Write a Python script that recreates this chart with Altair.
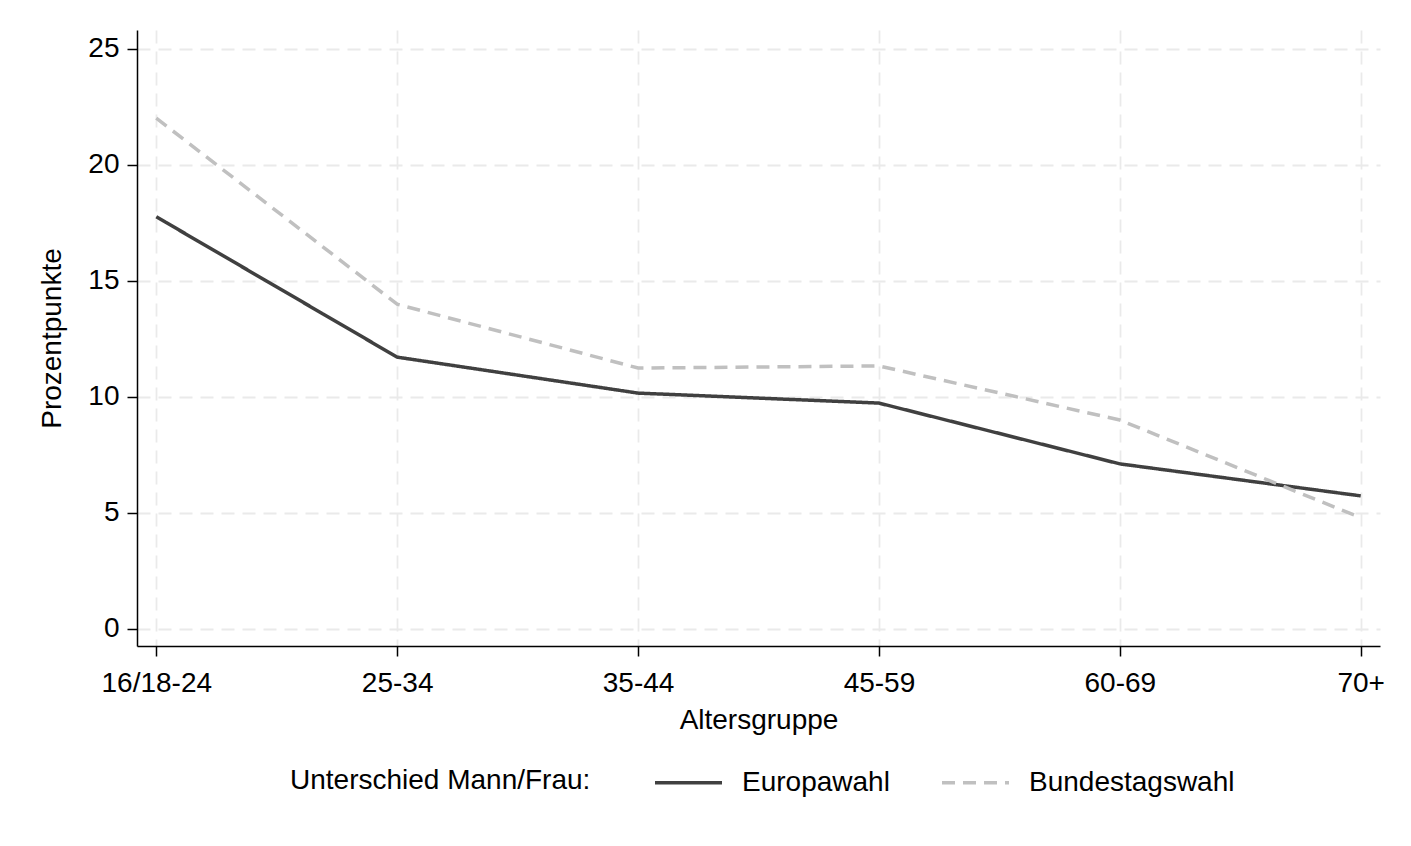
import altair as alt
import pandas as pd

categories = ["16/18-24", "25-34", "35-44", "45-59", "60-69", "70+"]
europawahl = [17.75, 11.7, 10.15, 9.72, 7.1, 5.72]
bundestagswahl = [22.0, 13.98, 11.23, 11.32, 8.99, 4.78]
series = ["Europawahl", "Bundestagswahl"]

rows = []
for name, vals in zip(series, [europawahl, bundestagswahl]):
    for i, (c, v) in enumerate(zip(categories, vals)):
        rows.append({"Altersgruppe": c, "Wert": v, "Serie": name, "order": i})
df = pd.DataFrame(rows)

FONT = "Liberation Sans"
FS = 28

chart = alt.Chart(df).mark_line(strokeWidth=3.5).encode(
    x=alt.X("Altersgruppe:N", sort=categories,
            scale=alt.Scale(type="point", padding=0.08),
            axis=alt.Axis(title="Altersgruppe", labelAngle=0)),
    y=alt.Y("Wert:Q", scale=alt.Scale(domain=[-0.75, 25.8], nice=False, zero=False),
            axis=alt.Axis(title="Prozentpunkte", values=[0, 5, 10, 15, 20, 25])),
    color=alt.Color("Serie:N", sort=series,
                    scale=alt.Scale(domain=series, range=["#404040", "#c0c0c0"]),
                    legend=alt.Legend(title="Unterschied Mann/Frau:", orient="none",
                                      direction="horizontal", titleOrient="left",
                                      legendX=153, legendY=717,
                                      symbolType="stroke", symbolSize=4489,
                                      symbolStrokeWidth=3.5, labelOffset=18,
                                      columnPadding=45, titlePadding=62,
                                      labelFontSize=FS, titleFontSize=FS,
                                      titleBaseline="line-top", titleLineHeight=18,
                                      titleFontWeight="normal", titleColor="black",
                                      labelColor="black", labelFont=FONT, titleFont=FONT,
                                      labelLimit=400, titleLimit=500)),
    strokeDash=alt.StrokeDash("Serie:N", sort=series,
                              scale=alt.Scale(domain=series, range=[[1, 0], [13, 8]]),
                              legend=None),
    order="order:Q",
).properties(
    width=1243, height=616,
    autosize=alt.AutoSizeParams(type="none"),
    padding={"left": 129, "top": 22, "right": 20, "bottom": 200},
).configure_view(stroke=None).configure_axis(
    labelFont=FONT, titleFont=FONT, labelFontSize=FS, titleFontSize=FS,
    labelColor="black", titleColor="black", titleFontWeight="normal",
    domainColor="black", domainWidth=1.5, tickColor="black", tickWidth=1.5,
    tickSize=10,
    grid=True, gridColor="#eaeaea", gridDash=[13, 8], gridWidth=1.8,
).configure_axisY(titlePadding=21, labelPadding=8).configure_axisX(titlePadding=9, labelPadding=13)

chart.save("out.html", embed_options={"renderer": "svg", "actions": False})
